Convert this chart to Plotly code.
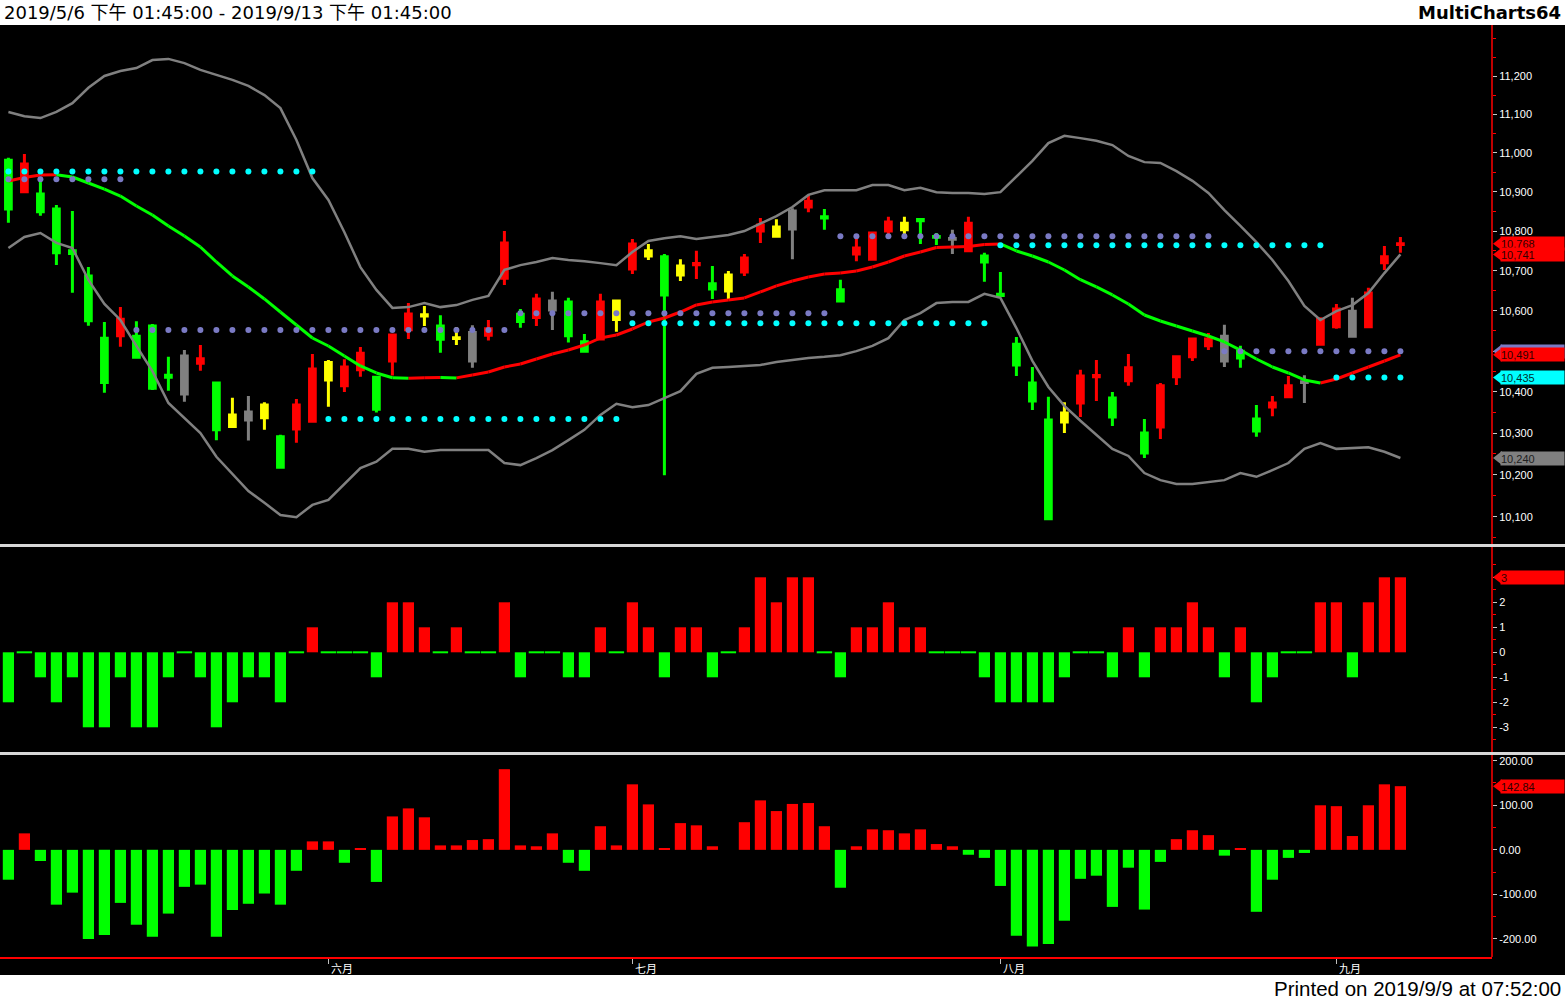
import math
import plotly.graph_objects as go

# ---------------- data ----------------
month_labels = ["六月", "七月", "八月", "九月"]
month_start_bar = [20, 39, 62, 83]

opens = [10981, 10900, 10894, 10856, 10750, 10687, 10532, 10538, 10537, 10562,
         10441, 10488, 10470, 10422, 10316, 10351, 10337, 10291, 10310, 10329,
         10429, 10415, 10454, 10436, 10476, 10553, 10587, 10562, 10531, 10546,
         10539, 10681, 10591, 10583, 10624, 10622, 10523, 10530, 10578, 10704,
         10737, 10735, 10689, 10715, 10667, 10649, 10697, 10800, 10787, 10851,
         10861, 10836, 10652, 10742, 10729, 10800, 10803, 10829, 10786, 10781,
         10750, 10737, 10641, 10517, 10422, 10332, 10327, 10373, 10437, 10385,
         10427, 10300, 10315, 10437, 10486, 10513, 10537, 10500, 10334, 10363,
         10388, 10425, 10517, 10560, 10599, 10560, 10720, 10766]
highs = [10987, 10997, 10930, 10866, 10851, 10709, 10572, 10609, 10574, 10567,
         10486, 10503, 10515, 10424, 10386, 10390, 10375, 10296, 10383, 10493,
         10478, 10480, 10510, 10437, 10541, 10619, 10612, 10589, 10559, 10564,
         10577, 10800, 10604, 10642, 10647, 10632, 10542, 10642, 10627, 10780,
         10767, 10742, 10729, 10750, 10712, 10699, 10742, 10833, 10830, 10858,
         10892, 10856, 10677, 10780, 10797, 10836, 10836, 10830, 10795, 10803,
         10836, 10745, 10697, 10535, 10461, 10388, 10375, 10454, 10478, 10400,
         10493, 10334, 10422, 10490, 10532, 10545, 10565, 10513, 10368, 10390,
         10439, 10441, 10584, 10617, 10632, 10657, 10762, 10785]
lows = [10821, 10899, 10839, 10714, 10645, 10563, 10398, 10511, 10482, 10405,
        10403, 10376, 10452, 10283, 10314, 10282, 10308, 10216, 10277, 10327,
        10364, 10400, 10437, 10350, 10440, 10530, 10562, 10496, 10515, 10459,
        10526, 10664, 10558, 10562, 10552, 10521, 10499, 10528, 10548, 10692,
        10727, 10199, 10674, 10679, 10629, 10629, 10687, 10770, 10786, 10729,
        10848, 10803, 10623, 10724, 10727, 10792, 10790, 10767, 10765, 10742,
        10749, 10672, 10634, 10439, 10356, 10094, 10300, 10339, 10378, 10317,
        10415, 10240, 10286, 10417, 10476, 10503, 10461, 10459, 10291, 10341,
        10387, 10373, 10515, 10555, 10535, 10557, 10702, 10745]
closes = [10856, 10971, 10849, 10745, 10743, 10575, 10423, 10579, 10485, 10409,
          10436, 10395, 10481, 10308, 10344, 10332, 10368, 10218, 10368, 10456,
          10472, 10461, 10495, 10358, 10540, 10592, 10590, 10529, 10533, 10476,
          10555, 10770, 10573, 10629, 10602, 10538, 10500, 10622, 10624, 10767,
          10750, 10639, 10712, 10718, 10654, 10689, 10732, 10815, 10810, 10805,
          10876, 10833, 10624, 10757, 10795, 10823, 10820, 10826, 10784, 10779,
          10820, 10722, 10638, 10466, 10378, 10095, 10349, 10439, 10440, 10339,
          10459, 10252, 10415, 10486, 10530, 10530, 10476, 10483, 10305, 10373,
          10415, 10423, 10579, 10604, 10537, 10644, 10735, 10768]
# candle paint state: R=up, G=down, Y=yellow, K=gray
candle_state = list("GRGGGGGRGG" "GKRGYKYGRR" "YRRGRRYGYK" "RRGRKGGRYR"
                    "YGYRGYRRYK" "RGGRRRYGGK" "RGGGGGYRRG" "RGRRRRKGGR"
                    "RKRRKRRR")

upper_band = [11106, 11095, 11090, 11106, 11129, 11169, 11200, 11213, 11221, 11242,
              11245, 11234, 11216, 11203, 11190, 11174, 11150, 11116, 11033, 10935,
              10879, 10797, 10709, 10652, 10607, 10609, 10619, 10609, 10614, 10627,
              10637, 10702, 10714, 10722, 10732, 10727, 10724, 10719, 10714, 10747,
              10775, 10782, 10787, 10780, 10785, 10790, 10800, 10820, 10838, 10861,
              10892, 10904, 10904, 10904, 10917, 10917, 10904, 10910, 10899, 10897,
              10897, 10894, 10899, 10938, 10979, 11025, 11044, 11038, 11031, 11020,
              10992, 10976, 10974, 10953, 10928, 10897, 10853, 10813, 10772, 10727,
              10674, 10612, 10577, 10599, 10614, 10644, 10694, 10741]
lower_band = [10757, 10785, 10795, 10770, 10757, 10677, 10617, 10577, 10513, 10451,
              10373, 10337, 10300, 10243, 10202, 10161, 10133, 10104, 10099, 10128,
              10140, 10178, 10216, 10231, 10262, 10262, 10255, 10259, 10259, 10259,
              10259, 10228, 10223, 10240, 10259, 10283, 10308, 10344, 10371, 10363,
              10368, 10385, 10402, 10444, 10459, 10461, 10463, 10466, 10473, 10478,
              10483, 10486, 10490, 10500, 10513, 10532, 10577, 10594, 10619, 10622,
              10622, 10642, 10632, 10557, 10476, 10412, 10366, 10330, 10295, 10262,
              10245, 10204, 10187, 10178, 10178, 10183, 10187, 10204, 10195, 10211,
              10228, 10262, 10276, 10262, 10264, 10266, 10255, 10240]
mid_band = [10927.5, 10936.5, 10942.9, 10943.4, 10937.8, 10922.4, 10906.9, 10889.1, 10863.6, 10840.7,
            10812.7, 10787.4, 10759.7, 10721.9, 10686.8, 10659.3, 10629.3, 10596.8, 10564.6, 10532.4,
            10512.6, 10488.0, 10463.5, 10446.3, 10434.6, 10433.6, 10434.6, 10435.5, 10434.3, 10441.4,
            10448.8, 10461.0, 10468.4, 10480.6, 10492.9, 10502.7, 10515.1, 10532.4, 10539.8, 10554.7,
            10572.0, 10581.9, 10596.8, 10614.3, 10621.8, 10626.8, 10631.8, 10646.8, 10661.8, 10674.3,
            10684.3, 10691.8, 10694.3, 10699.3, 10709.3, 10721.9, 10737.0, 10747.1, 10758.4, 10759.7,
            10761.0, 10766.0, 10767.3, 10749.6, 10737.0, 10721.9, 10701.8, 10677.5, 10659.3, 10639.3,
            10616.8, 10589.4, 10574.5, 10562.1, 10549.8, 10537.4, 10522.6, 10502.7, 10480.6, 10461.0,
            10446.3, 10429.2, 10421.8, 10431.6, 10446.3, 10461.0, 10475.7, 10491.0]

cyan_start = [0, 20, 39, 62, 83]
cyan_end = [19, 38, 61, 82, 87]
cyan_value = [10952, 10334, 10569, 10764, 10435]
purple_start = [0, 8, 32, 52, 76]
purple_end = [7, 31, 51, 75, 87]
purple_value = [10932, 10552, 10594, 10787, 10500]

trend_score = [-2, 0, -1, -2, -1, -3, -3, -1, -3, -3,
               -1, 0, -1, -3, -2, -1, -1, -2, 0, 1,
               0, 0, 0, -1, 2, 2, 1, 0, 1, 0,
               0, 2, -1, 0, 0, -1, -1, 1, 0, 2,
               1, -1, 1, 1, -1, 0, 1, 3, 2, 3,
               3, 0, -1, 1, 1, 2, 1, 1, 0, 0,
               0, -1, -2, -2, -2, -2, -1, 0, 0, -1,
               1, -1, 1, 1, 2, 1, -1, 1, -2, -1,
               0, 0, 2, 2, -1, 2, 3, 3]
momentum = [-67, 37, -25, -123, -96, -200, -191, -119, -168, -195,
            -143, -83, -78, -195, -135, -121, -98, -123, -47, 19,
            19, -29, 4, -72, 75, 93, 73, 10, 10, 22,
            24, 181, 10, 8, 37, -29, -47, 53, 10, 147,
            102, 4, 60, 55, 8, 0, 62, 111, 87, 103,
            105, 53, -85, 8, 46, 44, 37, 46, 13, 8,
            -11, -18, -81, -193, -217, -211, -159, -65, -58, -128,
            -40, -134, -27, 24, 44, 33, -13, 4, -139, -67,
            -18, -7, 100, 98, 31, 100, 147, 142.84]

price_ticks = [10100, 10200, 10300, 10400, 10500, 10600, 10700, 10800, 10900, 11000, 11100, 11200]
price_minor = [10050, 10150, 10250, 10350, 10450, 10550, 10650, 10750, 10850, 10950, 11050, 11150, 11250, 11300]
score_ticks = [-3, -2, -1, 0, 1, 2, 3]
mom_ticks = [-200, -100, 0, 100, 200]

# ---------------- geometry helpers ----------------
W, H = 1565, 999
AX_X = 1492


def py(px):
    return 1 - px / H


RED, GREEN, YELLOW, GRAY = "#ff0000", "#00ff00", "#ffff00", "#808080"
CYAN, PURPLE = "#00ffff", "#7a7ac4"
STATE_COLOR = {"R": RED, "G": GREEN, "Y": YELLOW, "K": GRAY}

N = len(closes)
idx = list(range(N))

fig = go.Figure()

# ---- candles ----
for st, col in STATE_COLOR.items():
    sel = [i for i in idx if candle_state[i] == st]
    fig.add_trace(go.Candlestick(
        x=sel, open=[opens[i] for i in sel], high=[highs[i] for i in sel],
        low=[lows[i] for i in sel], close=[closes[i] for i in sel],
        increasing=dict(line=dict(color=col, width=3), fillcolor=col),
        decreasing=dict(line=dict(color=col, width=3), fillcolor=col),
        whiskerwidth=0, showlegend=False, hoverinfo="skip",
        xaxis="x", yaxis="y"))

# ---- bands ----
for band in (upper_band, lower_band):
    fig.add_trace(go.Scatter(x=idx, y=band, mode="lines",
                             line=dict(color=GRAY, width=2.5),
                             showlegend=False, hoverinfo="skip", xaxis="x", yaxis="y"))

# ---- middle line colored by direction ----
segs = {RED: ([], []), GREEN: ([], [])}
for i in range(1, N):
    c = RED if mid_band[i] >= mid_band[i - 1] else GREEN
    segs[c][0].extend([i - 1, i, None])
    segs[c][1].extend([mid_band[i - 1], mid_band[i], None])
for c, (sx, sy) in segs.items():
    fig.add_trace(go.Scatter(x=sx, y=sy, mode="lines", line=dict(color=c, width=3),
                             showlegend=False, hoverinfo="skip", xaxis="x", yaxis="y"))

# ---- dotted levels ----
for starts, ends, vals, col in ((purple_start, purple_end, purple_value, PURPLE),
                                (cyan_start, cyan_end, cyan_value, CYAN)):
    dx, dy = [], []
    for s, e, v in zip(starts, ends, vals):
        for i in range(s, e + 1):
            dx.append(i)
            dy.append(v)
    fig.add_trace(go.Scatter(x=dx, y=dy, mode="markers",
                             marker=dict(color=col, size=6, line=dict(width=0)),
                             showlegend=False, hoverinfo="skip", xaxis="x", yaxis="y"))

# ---- panel 2 ----
nz = [i for i in idx if trend_score[i] != 0]
fig.add_trace(go.Bar(x=nz, y=[trend_score[i] for i in nz],
                     marker=dict(color=[RED if trend_score[i] > 0 else GREEN for i in nz], line=dict(width=0)),
                     width=0.7, showlegend=False, hoverinfo="skip", xaxis="x2", yaxis="y2"))
zz = [i for i in idx if trend_score[i] == 0]
fig.add_trace(go.Scatter(x=zz, y=[0] * len(zz), mode="markers",
                         marker=dict(symbol="line-ew", size=11, line=dict(color=GREEN, width=2)),
                         showlegend=False, hoverinfo="skip", xaxis="x2", yaxis="y2"))

# ---- panel 3 ----
fig.add_trace(go.Bar(x=idx, y=momentum,
                     marker=dict(color=[RED if v > 0 else GREEN for v in momentum], line=dict(width=0)),
                     width=0.7, showlegend=False, hoverinfo="skip", xaxis="x3", yaxis="y3"))

# ---- value tags ----
annotations = []
tags = [
    ("y", closes[-1], RED, f"{closes[-1]:,}", "#300000", True),
    ("y", upper_band[-1], RED, f"{upper_band[-1]:,}", "#300000", True),
    ("y", purple_value[-1], PURPLE, "", "#000000", True),
    ("y", mid_band[-1], RED, f"{int(round(mid_band[-1])):,}", "#300000", True),
    ("y", cyan_value[-1], CYAN, f"{cyan_value[-1]:,}", "#003030", True),
    ("y", lower_band[-1], GRAY, f"{lower_band[-1]:,}", "#202020", True),
    ("y2", trend_score[-1], RED, f"{trend_score[-1]}", "#300000", False),
    ("y3", momentum[-1], RED, f"{momentum[-1]:.2f}", "#300000", False),
]
for yref, val, col, txt, tcol, is_log in tags:
    fig.add_trace(go.Scatter(x=[7], y=[val], mode="markers",
                             marker=dict(symbol="triangle-left", size=12, color=col, line=dict(width=0)),
                             showlegend=False, hoverinfo="skip", xaxis="x4", yaxis=yref))
    annotations.append(dict(xref="paper", yref=yref, x=1500 / W, xanchor="left",
                            y=math.log10(val) if is_log else val, yanchor="middle",
                            text=txt, showarrow=False, bgcolor=col, width=63, height=13,
                            align="left", valign="middle", borderpad=0,
                            font=dict(family="Liberation Sans", size=11, color=tcol)))

# ---- month labels (left-aligned at month start, like the reference) ----
for b, lab in zip(month_start_bar, month_labels):
    annotations.append(dict(xref="x3", yref="paper", x=b, y=py(967.5), xanchor="left",
                            yanchor="middle", xshift=1, text=lab, showarrow=False,
                            font=dict(family="Noto Sans CJK SC", size=11, color="white")))

# ---- text ----
annotations += [
    dict(xref="paper", yref="paper", x=2 / W, y=py(12.5), xanchor="left", yanchor="middle",
         text="2019/5/6 下午 01:45:00 - 2019/9/13 下午 01:45:00", showarrow=False,
         font=dict(family="DejaVu Sans, Noto Sans CJK SC", size=18, color="black")),
    dict(xref="paper", yref="paper", x=1563 / W, y=py(12.5), xanchor="right", yanchor="middle",
         text="<b>MultiCharts64</b>", showarrow=False,
         font=dict(family="DejaVu Sans", size=18, color="black")),
    dict(xref="paper", yref="paper", x=1563 / W, y=py(988), xanchor="right", yanchor="middle",
         text="Printed on 2019/9/9 at 07:52:00", showarrow=False,
         font=dict(family="Liberation Sans", size=20.5, color="black")),
]

shapes = [
    dict(type="rect", xref="paper", yref="paper", x0=0, x1=1, y0=py(975), y1=py(25),
         fillcolor="black", line=dict(width=0), layer="below"),
    dict(type="line", xref="paper", yref="paper", x0=AX_X / W, x1=AX_X / W, y0=py(957), y1=py(25),
         line=dict(color=RED, width=1.5)),
    dict(type="line", xref="paper", yref="paper", x0=0, x1=1, y0=py(545.5), y1=py(545.5),
         line=dict(color="#d8d8d8", width=3)),
    dict(type="line", xref="paper", yref="paper", x0=0, x1=1, y0=py(753.5), y1=py(753.5),
         line=dict(color="#d8d8d8", width=3)),
]

tickfont = dict(family="Liberation Sans", size=11, color="white")
xr = [-0.525, 92.725]
xcommon = dict(range=xr, domain=[0, AX_X / W], showgrid=False, zeroline=False, fixedrange=True)
ycommon = dict(side="right", showgrid=False, zeroline=False, showline=False, ticks="outside",
               ticklen=4, tickcolor="#c8c8c8", tickfont=tickfont, tickmode="array", fixedrange=True)

fig.update_layout(
    width=W, height=H, autosize=False,
    margin=dict(l=0, r=0, t=0, b=0, pad=0),
    paper_bgcolor="white", plot_bgcolor="rgba(0,0,0,0)",
    showlegend=False, boxgap=0.49, boxgroupgap=0.3,
    xaxis=dict(**xcommon, anchor="y", showticklabels=False, rangeslider=dict(visible=False)),
    xaxis2=dict(**xcommon, anchor="y2", matches="x", showticklabels=False),
    xaxis3=dict(**xcommon, anchor="y3", matches="x", showline=True, linecolor=RED, linewidth=2,
                ticks="outside", ticklen=5, tickcolor="#c0c0c0", tickmode="array",
                tickvals=month_start_bar, showticklabels=False),
    xaxis4=dict(domain=[AX_X / W, 1], range=[0, 73], visible=False, anchor="y", fixedrange=True),
    yaxis=dict(**ycommon, type="log", anchor="x", domain=[py(544), py(25)],
               range=[4.001541, 4.054414], tickvals=price_ticks,
               ticktext=[f"{v:,}" for v in price_ticks],
               minor=dict(tickvals=price_minor, ticks="outside", ticklen=3, tickcolor=RED)),
    yaxis2=dict(**ycommon, anchor="x2", domain=[py(752), py(547)], range=[-3.988, 4.212],
                tickvals=score_ticks, ticktext=[str(v) for v in score_ticks],
                minor=dict(tickvals=[-3.5, -2.5, -1.5, -0.5, 0.5, 1.5, 2.5, 3.5], ticks="outside",
                           ticklen=3, tickcolor=RED)),
    yaxis3=dict(**ycommon, anchor="x3", domain=[py(957), py(755)], range=[-240.4, 212.8],
                tickvals=mom_ticks, ticktext=[f"{v:.2f}" for v in mom_ticks],
                minor=dict(tickvals=[-150, -50, 50, 150], ticks="outside", ticklen=3, tickcolor=RED)),
    annotations=annotations, shapes=shapes,
)

fig.write_html("out.html", config={"displayModeBar": False},
               post_script="document.body.style.margin='0';document.body.style.padding='0';")
